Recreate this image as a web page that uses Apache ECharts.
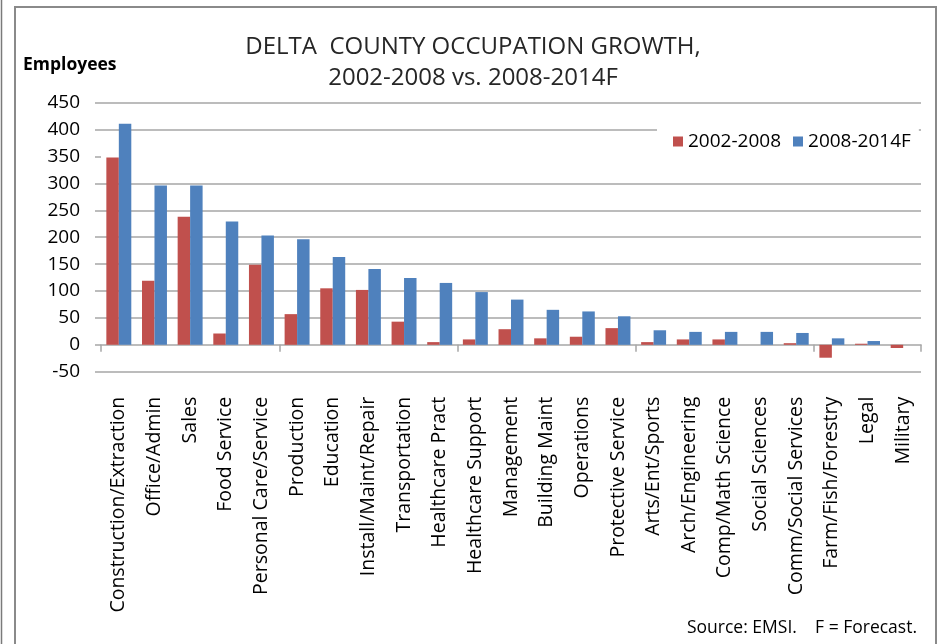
<!DOCTYPE html>
<html>
<head>
<meta charset="utf-8">
<script src="https://cdn.jsdelivr.net/npm/echarts@6/dist/echarts.min.js"></script>
<style>html,body{margin:0;padding:0;background:#fff;}#chart{width:946px;height:644px;}</style>
</head>
<body>
<div id="chart"></div>
<script>
const categories = ["Construction/Extraction","Office/Admin","Sales","Food Service","Personal Care/Service","Production","Education","Install/Maint/Repair","Transportation","Healthcare Pract","Healthcare Support","Management","Building Maint","Operations","Protective Service","Arts/Ent/Sports","Arch/Engineering","Comp/Math Science","Social Sciences","Comm/Social Services","Farm/Fish/Forestry","Legal","Military"];
const growth2002_2008 = [348,119,238,21,149,57,105,102,43,5,10,29,12,15,31,5,10,10,0,3,-24,2,-6];
const growth2008_2014F = [411,296,296,229,203,196,163,141,124,115,98,84,65,62,53,27,24,24,24,22,12,7,0];
const seriesNames = ["2002-2008","2008-2014F"];
const yTicks = {min:-50, max:450, interval:50};
// gridlines drawn in the reference (the 350 line is absent there)
const gridlineValues = [-50,50,100,150,200,250,300,400,450];

const FONT = "'Open Sans', sans-serif";
const grid = '#a6a6a6';

const chart = echarts.init(document.getElementById('chart'), null, {renderer:'canvas'});
chart.setOption({
  animation:false,
  backgroundColor:'#fff',
  textStyle:{fontFamily:FONT},
  title:{
    text:'DELTA  COUNTY OCCUPATION GROWTH,\n2002-2008 vs. 2008-2014F',
    left:'center', top:27,
    textStyle:{fontFamily:FONT, fontSize:24, fontWeight:'normal', color:'#262626', lineHeight:31}
  },
  legend:{
    data:seriesNames, left:657, top:125,
    backgroundColor:'#fff', padding:[7,8,7,16],
    itemWidth:10, itemHeight:10, itemGap:12, icon:'rect',
    textStyle:{fontFamily:FONT, fontSize:19, color:'#000'}
  },
  grid:{left:101, right:25, top:102.7, bottom:272.3, containLabel:false},
  xAxis:[{
    type:'category', data:categories, gridIndex:0, position:'bottom',
    axisLine:{show:true, onZero:true, lineStyle:{color:grid, width:1.5}},
    axisTick:{show:true, length:7, lineStyle:{color:grid, width:1.5}},
    axisLabel:{show:false}, splitLine:{show:false}
  },{
    type:'category', data:categories, gridIndex:0, position:'bottom',
    axisLine:{show:false, onZero:false}, axisTick:{show:false},
    axisLabel:{show:true, rotate:90, margin:25, interval:0, fontFamily:FONT, fontSize:19.5, color:'#000'},
    splitLine:{show:false}
  }],
  yAxis:{
    type:'value', min:yTicks.min, max:yTicks.max, interval:yTicks.interval,
    axisLine:{show:false},
    axisTick:{show:true, length:6, lineStyle:{color:grid, width:1.5}},
    axisLabel:{margin:21, fontFamily:FONT, fontSize:19, color:'#000'},
    splitLine:{show:false}
  },
  series:[{
    type:'line', data:[], z:0, silent:true,
    markLine:{
      z:0, silent:true, symbol:['none','none'], animation:false,
      label:{show:false},
      lineStyle:{color:grid, width:1.5, type:'solid'},
      emphasis:{disabled:true},
      data:gridlineValues.map(v => ({yAxis:v}))
    }
  },{
    name:seriesNames[0], type:'bar', data:growth2002_2008, xAxisIndex:0, z:2,
    itemStyle:{color:'#c0504d'}, barGap:'0%', barCategoryGap:'30%'
  },{
    name:seriesNames[1], type:'bar', data:growth2008_2014F, xAxisIndex:0, z:2,
    itemStyle:{color:'#4f81bd'}, barGap:'0%', barCategoryGap:'30%'
  }],
  graphic:[
    {type:'rect', shape:{x:15, y:7, width:921, height:700}, style:{fill:'none', stroke:'#8a8a8a', lineWidth:2}, silent:true},
    {type:'line', shape:{x1:1.5, y1:0, x2:1.5, y2:644}, style:{stroke:'#7a7a7a', lineWidth:1.5}, silent:true},
    {type:'text', left:23, top:56, style:{text:'Employees', fontFamily:FONT, fontSize:17.5, fontWeight:'bold', fill:'#000'}},
    {type:'text', right:29, top:619, style:{text:'Source: EMSI.    F = Forecast.', fontFamily:FONT, fontSize:17.5, fill:'#000'}}
  ]
});
</script>
</body>
</html>
